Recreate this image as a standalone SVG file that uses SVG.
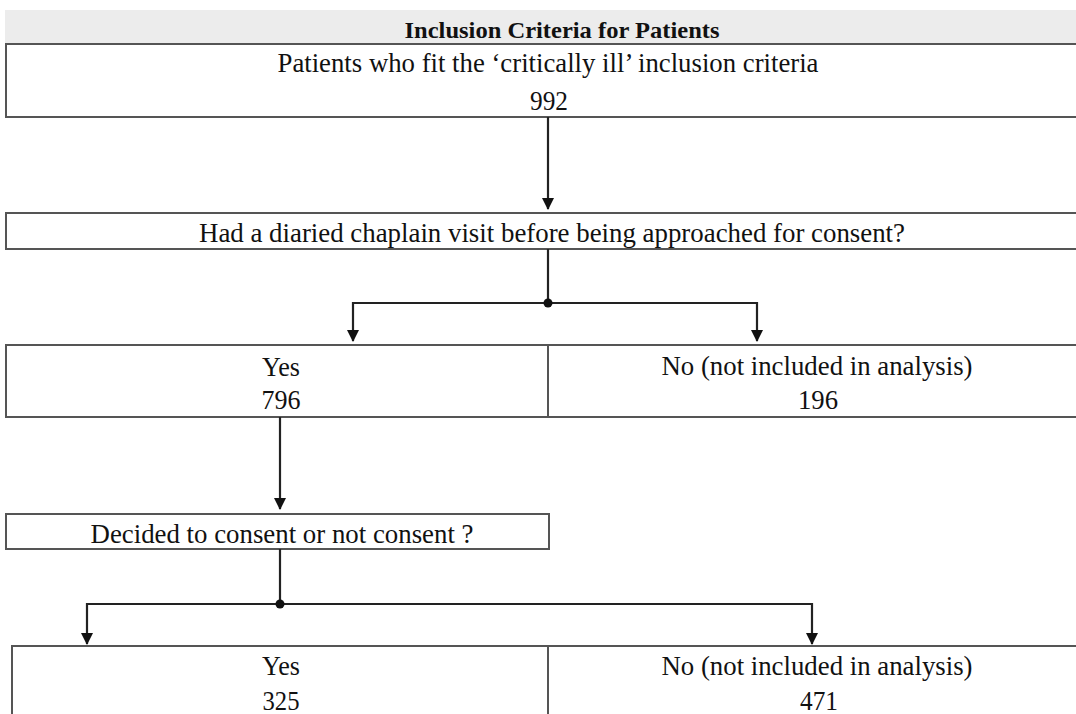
<svg xmlns="http://www.w3.org/2000/svg" width="1076" height="714" viewBox="0 0 1076 714">
<style>
.box{fill:#fff;stroke:#555;stroke-width:2}
.t{font-family:"Liberation Serif","Times New Roman",serif;font-size:28px;fill:#111;text-anchor:middle}
.b{font-weight:bold;font-size:23px}
.c{fill:none;stroke:#222;stroke-width:2.2}
</style>
<defs>
<marker id="ah2" viewBox="0 0 12 12" refX="11" refY="6" markerWidth="12" markerHeight="12" markerUnits="userSpaceOnUse" orient="auto"><path d="M0,0 L12,6 L0,12 z" fill="#111"/></marker>
</defs>
<rect width="1076" height="714" fill="#fff"/>
<g id="header">
<rect x="5" y="10" width="1075" height="34" fill="#ececec"/>
<text class="t b" x="562" y="38" textLength="315" lengthAdjust="spacingAndGlyphs">Inclusion Criteria for Patients</text>
</g>
<g id="n1">
<rect class="box" x="6" y="44" width="1075" height="73"/>
<text class="t" x="548" y="72" textLength="541" lengthAdjust="spacingAndGlyphs">Patients who fit the ‘critically ill’ inclusion criteria</text>
<text class="t" x="549" y="110" textLength="38" lengthAdjust="spacingAndGlyphs">992</text>
</g>
<g id="n2">
<rect class="box" x="6" y="213" width="1075" height="36"/>
<text class="t" x="552" y="242" textLength="706" lengthAdjust="spacingAndGlyphs">Had a diaried chaplain visit before being approached for consent?</text>
</g>
<g id="n3">
<rect class="box" x="6" y="345" width="542" height="72"/>
<text class="t" x="281" y="376" textLength="38" lengthAdjust="spacingAndGlyphs">Yes</text>
<text class="t" x="281" y="409" textLength="39" lengthAdjust="spacingAndGlyphs">796</text>
</g>
<g id="n4">
<rect class="box" x="548" y="345" width="533" height="72"/>
<text class="t" x="817" y="375" textLength="311" lengthAdjust="spacingAndGlyphs">No (not included in analysis)</text>
<text class="t" x="818" y="409" textLength="40" lengthAdjust="spacingAndGlyphs">196</text>
</g>
<g id="n5">
<rect class="box" x="6" y="514" width="543" height="35"/>
<text class="t" x="282" y="543" textLength="383" lengthAdjust="spacingAndGlyphs">Decided to consent or not consent ?</text>
</g>
<g id="n6">
<rect class="box" x="12" y="646" width="536" height="80"/>
<text class="t" x="281" y="675" textLength="38" lengthAdjust="spacingAndGlyphs">Yes</text>
<text class="t" x="281" y="710" textLength="37" lengthAdjust="spacingAndGlyphs">325</text>
</g>
<g id="n7">
<rect class="box" x="548" y="646" width="533" height="80"/>
<text class="t" x="817" y="675" textLength="311" lengthAdjust="spacingAndGlyphs">No (not included in analysis)</text>
<text class="t" x="819" y="710" textLength="38" lengthAdjust="spacingAndGlyphs">471</text>
</g>
<g id="connectors">
<path class="c" d="M548,117 V209" marker-end="url(#ah2)"/>
<path class="c" d="M548,249 V303"/>
<path class="c" d="M548,303 H353 V341" marker-end="url(#ah2)"/>
<path class="c" d="M548,303 H757 V341" marker-end="url(#ah2)"/>
<circle cx="548" cy="303" r="4.5" fill="#111"/>
<path class="c" d="M280,417 V509" marker-end="url(#ah2)"/>
<path class="c" d="M280,549 V604"/>
<path class="c" d="M280,604 H87 V644" marker-end="url(#ah2)"/>
<path class="c" d="M280,604 H812 V644" marker-end="url(#ah2)"/>
<circle cx="280" cy="604" r="4.5" fill="#111"/>
</g>
</svg>
